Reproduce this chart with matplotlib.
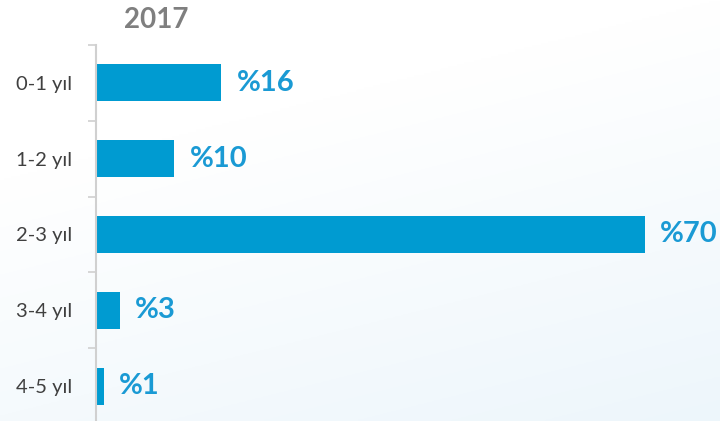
import numpy as np
import matplotlib
matplotlib.use("Agg")
import matplotlib.pyplot as plt

categories = ["0-1 yıl", "1-2 yıl", "2-3 yıl", "3-4 yıl", "4-5 yıl"]
values = [16, 10, 70, 3, 1]
labels = ["%16", "%10", "%70", "%3", "%1"]
title = "2017"

W, H = 720, 421
fig = plt.figure(figsize=(W / 100, H / 100), dpi=100)

# faint background gradient
bg = fig.add_axes([0, 0, 1, 1], zorder=0)
yy, xx = np.mgrid[0:1:200j, 0:1:300j]
g = np.clip(0.7 * yy + 0.3 * xx - 0.3, 0, 1)
img = np.zeros((200, 300, 3))
top = np.array([1.0, 1.0, 1.0])
bot = np.array([0.90, 0.95, 0.98])
for c in range(3):
    img[..., c] = top[c] * (1 - g) + bot[c] * g
bg.imshow(img, extent=[0, 1, 0, 1], aspect="auto", origin="upper")
bg.axis("off")

# main axes: left spine at x=96px, top 45px, bottom ~424px
left = 96 / W
right_px = 645
ax_top = 45
ax_bot = 424
ax = fig.add_axes([left, (H - ax_bot) / H, (right_px - 96) / W, (ax_bot - ax_top) / H], zorder=1)
ax.patch.set_alpha(0)

y = np.arange(len(categories))
bar_color = "#009bd1"
ax.barh(y, values, height=0.49, color=bar_color)
ax.set_ylim(len(categories) - 0.5, -0.5)
ax.set_xlim(0, 70)

for yi, v, lab in zip(y, values, labels):
    ax.annotate(lab, (v, yi), xytext=(11, 0), textcoords="offset points",
                ha="left", va="center", fontsize=21, fontweight="bold",
                color="#1a9ad4", family=["Lato", "DejaVu Sans"])

for s in ["top", "right", "bottom"]:
    ax.spines[s].set_visible(False)
ax.spines["left"].set_color("#d0d0d0")
ax.spines["left"].set_linewidth(1.5)
ax.set_xticks([])
ax.set_yticks(np.arange(len(categories) + 1) - 0.5, minor=False)
ax.set_yticklabels([])
ax.tick_params(axis="y", length=6, width=1.2, color="#d0d0d0")
ax.set_yticks(y, minor=True)
ax.set_yticklabels(categories, minor=True, fontsize=14.5, color="#404040",
                   family=["Lato", "DejaVu Sans"])
ax.tick_params(axis="y", which="minor", length=0, pad=17)

fig.text(156 / W, 1 - 20 / H, title, ha="center", va="center", fontsize=20,
         fontweight="bold", color="#7f7f7f", family=["Lato", "DejaVu Sans"])

fig.savefig("out.png", dpi=100)
